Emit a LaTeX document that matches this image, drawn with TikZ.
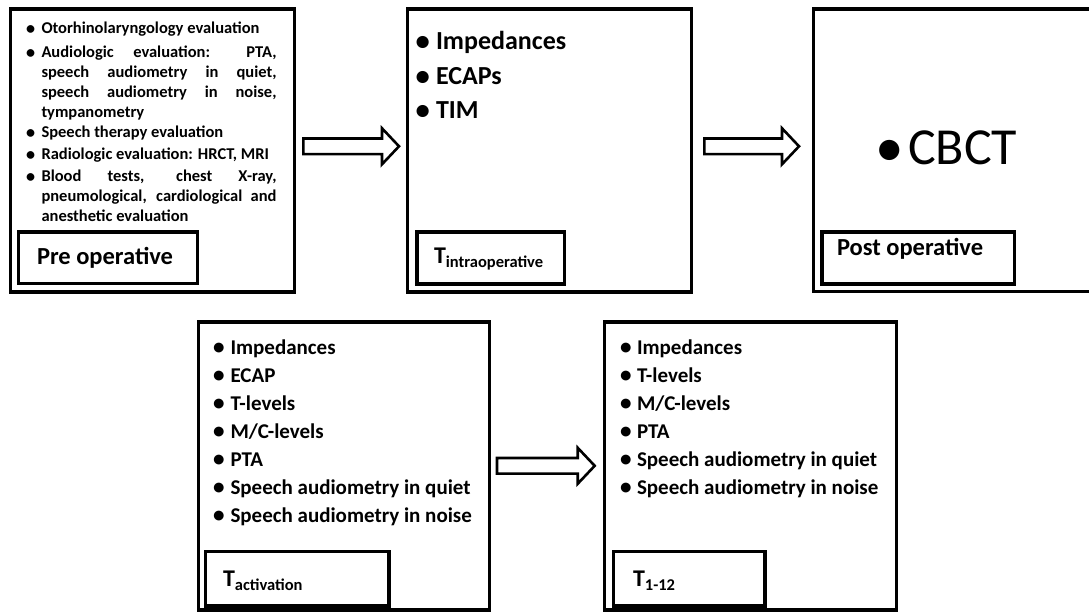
\documentclass[tikz,border=0pt]{standalone}
\usepackage{fontspec}
\setmainfont{Carlito}
\usetikzlibrary{calc,fit}
\newcommand\blockarrow[2]{\draw[blockarr] let \p1=(#1), \p2=(#2) in
 (\x1,\y1+7.8pt) -- (\x2-17pt,\y1+7.8pt) -- (\x2-17pt,\y1+18pt) -- (\x2,\y1)
 -- (\x2-17pt,\y1-18pt) -- (\x2-17pt,\y1-7.8pt) -- (\x1,\y1-7.8pt) -- cycle;}
\newcommand\bigbullet{\raisebox{-0.03em}{\scalebox{1.1}{\textbullet}}}
\newcommand\bul[1]{\makebox[#1][l]{\bigbullet}}
\tikzset{
 outerbox/.style={draw, line width=3.2pt, inner sep=0pt, outer sep=0pt},
 labbox/.style={draw, line width=3.2pt, inner sep=0pt, outer sep=0pt},
 blockarr/.style={draw, line width=2.6pt, fill=white, line join=miter},
 txt/.style={anchor=base west, inner sep=0pt, outer sep=0pt},
 itemA/.style={txt, font=\fontsize{16.5}{19.7}\selectfont\bfseries},
 itemAj/.style={itemA, text width=235pt, align=justify},
 itemB/.style={txt, font=\fontsize{26}{30}\selectfont\bfseries},
 itemC/.style={txt, font=\fontsize{21}{25}\selectfont\bfseries},
 labA/.style={txt, font=\fontsize{24.5}{28}\selectfont\bfseries},
 labB/.style={txt, font=\fontsize{24.5}{28}\selectfont\bfseries},
 bigT/.style={txt, font=\fontsize{24}{28}\selectfont\bfseries},
}
\newcommand\Tsub[1]{T{\fontsize{16.5}{20}\selectfont\raisebox{-4pt}{#1}}}
\begin{document}
\begin{tikzpicture}[x=1pt,y=-1pt]
\useasboundingbox[fill=white] (0,0) rectangle (1089,612);
\clip (0,0) rectangle (1089,612);
% outer boxes
\node[outerbox, fit={(10.5,9) (294.3,292)}] (pre) {};
\node[outerbox, fit={(407.7,9) (691.7,292)}] (intra) {};
\node[outerbox, fit={(813.3,9) (1100,291.5)}] (post) {};
\node[outerbox, fit={(198.7,322) (489.3,610)}] (act) {};
\node[outerbox, fit={(604.3,322) (896.3,610)}] (t112) {};
% label boxes
\node[labbox, fit={(18.7,232) (197.7,283.7)}] (prelab) {};
\node[labbox, fit={(417,232) (564.3,284)}] (intralab) {};
\node[labbox, fit={(822,232) (1014.7,284)}] (postlab) {};
\node[labbox, fit={(205.3,551.3) (389,606)}] (actlab) {};
\node[labbox, fit={(613.7,551.3) (765,606)}] (t112lab) {};
% label texts
\node[labA] (prelabt) at (37,265) {Pre operative};
\node[bigT] (intralabt) at (434,264) {\Tsub{intraoperative}};
\node[labB] (postlabt) at (837,255) {Post operative};
\node[bigT] (actlabt) at (223,586) {\Tsub{activation}};
\node[bigT] (t112labt) at (633,586) {\Tsub{1-12}};
% pre operative items
\node[itemA] (pb1) at (26,34) {\bigbullet};
\node[itemAj] (pi1) at (41.5,34) {Otorhinolaryngology evaluation};
\node[itemA] (pb2) at (26,58) {\bigbullet};
\node[itemAj] (pi2) at (41.5,58) {Audiologic evaluation: PTA,\linebreak speech audiometry in quiet,\linebreak speech audiometry in noise,\linebreak tympanometry};
\node[itemA] (pb3) at (26,138) {\bigbullet};
\node[itemAj] (pi3) at (41.5,138) {Speech therapy evaluation};
\node[itemA] (pb4) at (26,160) {\bigbullet};
\node[itemAj] (pi4) at (41.5,160) {Radiologic evaluation: HRCT, MRI};
\node[itemA] (pb5) at (26,182) {\bigbullet};
\node[itemAj] (pi5) at (41.5,182) {Blood tests, chest X-ray,\linebreak pneumological, cardiological and\linebreak anesthetic evaluation};
% intraoperative items
\node[itemB] (ii1) at (415.5,50) {\bul{20.5pt}Impedances};
\node[itemB] (ii2) at (415.5,85) {\bul{20.5pt}ECAPs};
\node[itemB] (ii3) at (415.5,119) {\bul{20.5pt}TIM};
% post operative
\node[txt, font=\fontsize{52}{60}\selectfont] (cbct) at (875,165) {\bul{33pt}CBCT};
% activation items
\node[itemC] (ai1) at (213,354) {\bul{17.5pt}Impedances};
\node[itemC] (ai2) at (213,382) {\bul{17.5pt}ECAP};
\node[itemC] (ai3) at (213,410) {\bul{17.5pt}T-levels};
\node[itemC] (ai4) at (213,438) {\bul{17.5pt}M/C-levels};
\node[itemC] (ai5) at (213,466) {\bul{17.5pt}PTA};
\node[itemC] (ai6) at (213,494) {\bul{17.5pt}Speech audiometry in quiet};
\node[itemC] (ai7) at (213,522) {\bul{17.5pt}Speech audiometry in noise};
% T1-12 items
\node[itemC] (ti1) at (620,354) {\bul{17pt}Impedances};
\node[itemC] (ti2) at (620,382) {\bul{17pt}T-levels};
\node[itemC] (ti3) at (620,410) {\bul{17pt}M/C-levels};
\node[itemC] (ti4) at (620,438) {\bul{17pt}PTA};
\node[itemC] (ti5) at (620,466) {\bul{17pt}Speech audiometry in quiet};
\node[itemC] (ti6) at (620,494) {\bul{17pt}Speech audiometry in noise};
% arrows
\coordinate (a1s) at (303.3,146.3);
\coordinate (a1t) at (399,146.3);
\coordinate (a2s) at (704.3,146.3);
\coordinate (a2t) at (799,146.3);
\coordinate (a3s) at (497,465.8);
\coordinate (a3t) at (594.7,465.8);
\blockarrow{a1s}{a1t}
\blockarrow{a2s}{a2t}
\blockarrow{a3s}{a3t}
\end{tikzpicture}
\end{document}
